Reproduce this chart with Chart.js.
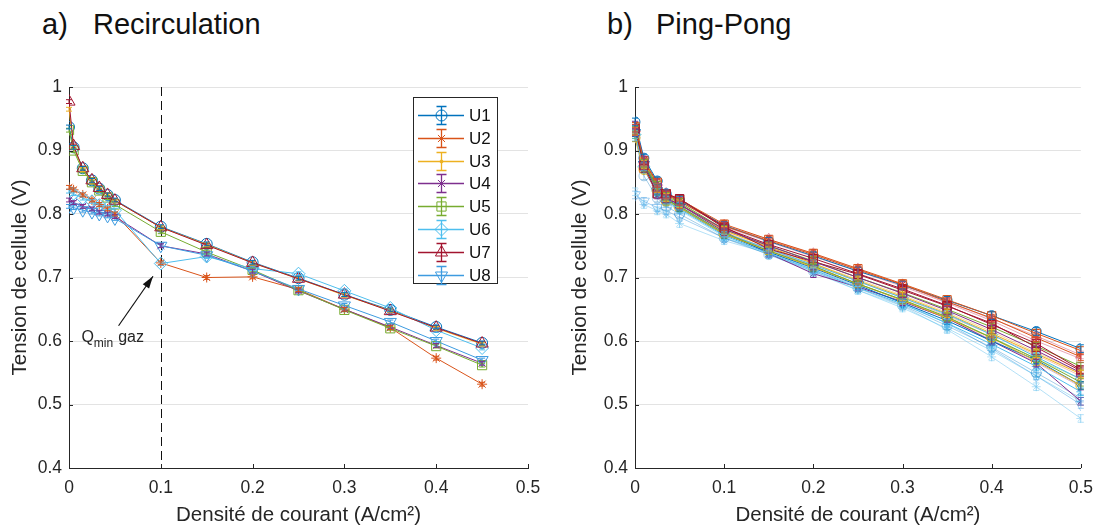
<!DOCTYPE html>
<html lang="fr">
<head>
<meta charset="UTF-8">
<title>Recirculation / Ping-Pong</title>
<script src="https://cdn.jsdelivr.net/npm/chart.js@4.4.1/dist/chart.umd.min.js"></script>
<style>
  body { margin: 0; background: #fff; font-family: "Liberation Sans", Arial, sans-serif; }
  #page { position: relative; width: 1103px; height: 526px; overflow: hidden; }
  .box { position: absolute; top: 0; }
  .ttl { position: absolute; top: 8px; font-size: 29px; color: #111; white-space: pre; }
</style>
</head>
<body>
<div id="page">
  <span class="ttl" style="left:42px">a)</span>
  <span class="ttl" style="left:93px">Recirculation</span>
  <span class="ttl" style="left:607px">b)</span>
  <span class="ttl" style="left:656px">Ping-Pong</span>
  <div class="box" style="left:0;width:555px;height:526px"><canvas id="left" width="555" height="526"></canvas></div>
  <div class="box" style="left:560px;width:543px;height:526px"><canvas id="right" width="543" height="526"></canvas></div>
</div>
<script>
// ---- data: a) Recirculation ----
const xLeft = [0, 0.005, 0.015, 0.025, 0.033, 0.042, 0.05, 0.1, 0.15, 0.2, 0.25, 0.3, 0.35, 0.4, 0.45];
const U1 = [0.937, 0.905, 0.872, 0.853, 0.840, 0.830, 0.822, 0.780, 0.753, 0.724, 0.699, 0.673, 0.649, 0.622, 0.597];
const U2 = [0.842, 0.838, 0.830, 0.822, 0.815, 0.808, 0.800, 0.723, 0.700, 0.701, 0.681, 0.650, 0.621, 0.573, 0.532];
const U3 = [0.965, 0.905, 0.870, 0.852, 0.840, 0.830, 0.821, 0.779, 0.752, 0.723, 0.698, 0.672, 0.648, 0.620, 0.595];
const U4 = [0.822, 0.818, 0.812, 0.808, 0.803, 0.800, 0.796, 0.750, 0.737, 0.710, 0.679, 0.650, 0.622, 0.593, 0.565];
const U5 = [0.932, 0.900, 0.868, 0.850, 0.837, 0.826, 0.815, 0.772, 0.740, 0.712, 0.680, 0.649, 0.620, 0.592, 0.562];
const U6 = [0.836, 0.832, 0.825, 0.820, 0.814, 0.810, 0.806, 0.722, 0.733, 0.714, 0.706, 0.679, 0.652, 0.617, 0.589];
const U7 = [0.977, 0.907, 0.872, 0.853, 0.841, 0.830, 0.821, 0.779, 0.751, 0.723, 0.698, 0.673, 0.647, 0.621, 0.596];
const U8 = [0.812, 0.810, 0.806, 0.803, 0.800, 0.797, 0.793, 0.750, 0.735, 0.710, 0.682, 0.656, 0.630, 0.600, 0.570];
const leftNames = ['U1', 'U2', 'U3', 'U4', 'U5', 'U6', 'U7', 'U8'];
const leftErr = 0.003;

// ---- data: b) Ping-Pong ----
const xRight = [0, 0.01, 0.025, 0.035, 0.05, 0.1, 0.15, 0.2, 0.25, 0.3, 0.35, 0.4, 0.45, 0.5];
const P1  = [0.945, 0.888, 0.852, 0.832, 0.822, 0.782, 0.757, 0.734, 0.710, 0.688, 0.664, 0.640, 0.615, 0.588];
const P2  = [0.935, 0.882, 0.848, 0.830, 0.820, 0.781, 0.758, 0.736, 0.712, 0.689, 0.662, 0.636, 0.605, 0.575];
const P3  = [0.930, 0.878, 0.840, 0.826, 0.816, 0.774, 0.748, 0.722, 0.695, 0.670, 0.643, 0.612, 0.580, 0.548];
const P4  = [0.940, 0.885, 0.830, 0.825, 0.815, 0.772, 0.738, 0.706, 0.685, 0.662, 0.636, 0.600, 0.565, 0.505];
const P5  = [0.935, 0.880, 0.845, 0.828, 0.818, 0.776, 0.750, 0.726, 0.700, 0.676, 0.650, 0.622, 0.592, 0.560];
const P6  = [0.925, 0.875, 0.838, 0.822, 0.812, 0.770, 0.745, 0.720, 0.694, 0.668, 0.642, 0.610, 0.575, 0.540];
const P7  = [0.930, 0.872, 0.832, 0.830, 0.824, 0.780, 0.745, 0.725, 0.705, 0.680, 0.655, 0.628, 0.590, 0.553];
const P8  = [0.928, 0.878, 0.836, 0.825, 0.810, 0.768, 0.740, 0.715, 0.688, 0.660, 0.632, 0.600, 0.570, 0.530];
const P9  = [0.938, 0.884, 0.850, 0.832, 0.823, 0.784, 0.760, 0.738, 0.714, 0.690, 0.665, 0.640, 0.612, 0.585];
const P10 = [0.920, 0.870, 0.838, 0.820, 0.810, 0.768, 0.742, 0.716, 0.690, 0.664, 0.636, 0.605, 0.568, 0.530];
const P11 = [0.930, 0.878, 0.842, 0.824, 0.815, 0.776, 0.750, 0.725, 0.700, 0.675, 0.648, 0.618, 0.585, 0.550];
const P12 = [0.932, 0.880, 0.840, 0.822, 0.812, 0.770, 0.742, 0.718, 0.690, 0.665, 0.638, 0.605, 0.572, 0.535];
const P13 = [0.925, 0.874, 0.835, 0.820, 0.808, 0.766, 0.738, 0.712, 0.684, 0.658, 0.628, 0.595, 0.560, 0.520];
const P14 = [0.935, 0.876, 0.832, 0.832, 0.824, 0.778, 0.752, 0.730, 0.706, 0.682, 0.656, 0.626, 0.596, 0.555];
const L1  = [0.835, 0.815, 0.805, 0.800, 0.785, 0.758, 0.738, 0.710, 0.680, 0.655, 0.618, 0.575, 0.528, 0.478];
const L2  = [0.830, 0.820, 0.810, 0.805, 0.795, 0.762, 0.740, 0.713, 0.686, 0.660, 0.628, 0.588, 0.545, 0.500];
const L3  = [0.930, 0.882, 0.848, 0.830, 0.820, 0.780, 0.756, 0.733, 0.710, 0.686, 0.660, 0.632, 0.600, 0.572];
const L4  = [0.935, 0.885, 0.850, 0.832, 0.820, 0.782, 0.760, 0.737, 0.713, 0.688, 0.662, 0.635, 0.608, 0.578];
const L5  = [0.930, 0.876, 0.840, 0.824, 0.814, 0.772, 0.745, 0.720, 0.694, 0.668, 0.640, 0.610, 0.578, 0.545];
const L6  = [0.928, 0.875, 0.838, 0.822, 0.812, 0.770, 0.744, 0.718, 0.690, 0.664, 0.635, 0.602, 0.566, 0.528];
const L7  = [0.925, 0.873, 0.836, 0.820, 0.810, 0.768, 0.742, 0.716, 0.690, 0.665, 0.637, 0.606, 0.572, 0.540];
const L8  = [0.930, 0.878, 0.842, 0.826, 0.815, 0.774, 0.748, 0.722, 0.697, 0.672, 0.645, 0.615, 0.582, 0.550];
const L9  = [0.922, 0.870, 0.832, 0.818, 0.806, 0.764, 0.736, 0.708, 0.680, 0.652, 0.620, 0.585, 0.545, 0.505];
const L10 = [0.920, 0.860, 0.825, 0.812, 0.800, 0.762, 0.736, 0.710, 0.683, 0.656, 0.624, 0.590, 0.550, 0.510];
const rightErr = 0.006;

const xTicks = [0, 0.1, 0.2, 0.3, 0.4, 0.5];
const yTicks = [0.4, 0.5, 0.6, 0.7, 0.8, 0.9, 1];

// matlab-ish colours and markers
const C = ['#0072BD', '#D95319', '#EDB120', '#7E2F8E', '#77AC30', '#4DBEEE', '#A2142F'];
const CL = ['rgba(0,114,189,0.35)', 'rgba(217,83,25,0.35)', 'rgba(237,177,32,0.45)', 'rgba(126,47,142,0.35)',
            'rgba(119,172,48,0.4)', 'rgba(77,190,238,0.45)', 'rgba(200,60,100,0.45)'];
const markers = {
  o: {pointStyle: 'circle', r: 5.5, rot: 0},
  '*': {pointStyle: 'star', r: 5, rot: 0},
  '.': {pointStyle: 'circle', r: 1.5, rot: 0, fill: true},
  x: {pointStyle: 'crossRot', r: 5, rot: 0},
  s: {pointStyle: 'rect', r: 6.5, rot: 0},
  d: {pointStyle: 'rectRot', r: 6.5, rot: 0},
  '^': {pointStyle: 'triangle', r: 7, rot: 0},
  v: {pointStyle: 'triangle', r: 7, rot: 180}
};

function makeSet(label, xs, ys, color, mk, scale) {
  const m = markers[mk];
  return {
    label: label,
    data: xs.map((x, i) => ({x: x, y: ys[i]})),
    borderColor: color,
    backgroundColor: m.fill ? color : 'rgba(0,0,0,0)',
    borderWidth: 1,
    pointStyle: m.pointStyle,
    pointRadius: m.r * scale,
    pointRotation: m.rot,
    pointBorderWidth: 1,
    pointBackgroundColor: m.fill ? color : 'rgba(0,0,0,0)',
    pointBorderColor: color,
    pointHoverRadius: m.r * scale
  };
}

const leftData = [U1, U2, U3, U4, U5, U6, U7, U8];
const leftMk = ['o', '*', '.', 'x', 's', 'd', '^', 'v'];
const leftColors = [C[0], C[1], C[2], C[3], C[4], C[5], C[6], '#3D9BE0'];
const leftSets = leftData.map((ys, i) => makeSet(leftNames[i], xLeft, ys, leftColors[i], leftMk[i], 1));

const rightData = [L1, L2, L3, L4, L5, L6, L7, L8, L9, L10, P1, P2, P3, P4, P5, P6, P7, P8, P9, P10, P11, P12, P13, P14];
const rightColors = ['rgba(120,200,240,0.55)', 'rgba(90,170,230,0.55)', CL[6], CL[6], CL[1], CL[3], CL[4], CL[2], CL[5], CL[0],
                     C[0], C[1], C[2], C[3], C[4], C[5], C[6], C[0], C[1], C[2], C[3], C[4], C[5], C[6]];
const rightMk = ['*', 'v', 's', '^', 'o', 'x', 'd', 's', '*', 'o',
                 'o', '*', '.', 'x', 's', 'd', 's', 'v', 's', 'o', 's', 'x', '*', 's'];
const rightSets = rightData.map((ys, i) => makeSet('S' + (i + 1), xRight, ys, rightColors[i], rightMk[i], 0.9));

// draw order: later series on top
[leftSets, rightSets].forEach(sets => sets.forEach((s, i) => { s.order = sets.length - i; }));

const FONT = '"Liberation Sans", Arial, sans-serif';

const errorBars = {
  id: 'errorBars',
  afterDatasetsDraw(chart, args, opts) {
    const ctx = chart.ctx, ys = chart.scales.y;
    const n = chart.data.datasets.length;
    for (let d = n - 1; d >= 0; d--) {
      const ds = chart.data.datasets[d];
      const meta = chart.getDatasetMeta(d);
      ctx.save();
      ctx.strokeStyle = ds.borderColor;
      ctx.lineWidth = 1;
      meta.data.forEach((el, i) => {
        const v = ds.data[i].y;
        const y1 = ys.getPixelForValue(v - opts.err), y2 = ys.getPixelForValue(v + opts.err);
        ctx.beginPath();
        ctx.moveTo(el.x, y1); ctx.lineTo(el.x, y2);
        ctx.moveTo(el.x - 3, y1); ctx.lineTo(el.x + 3, y1);
        ctx.moveTo(el.x - 3, y2); ctx.lineTo(el.x + 3, y2);
        ctx.stroke();
      });
      ctx.restore();
    }
  }
};

// small inward tick marks like the original axes
const innerTicks = {
  id: 'innerTicks',
  afterDraw(chart) {
    const ctx = chart.ctx, xs = chart.scales.x, ys = chart.scales.y, a = chart.chartArea;
    ctx.save();
    ctx.strokeStyle = '#262626'; ctx.lineWidth = 1;
    ctx.beginPath();
    xTicks.forEach(v => { const p = Math.round(xs.getPixelForValue(v)) + 0.5; ctx.moveTo(p, a.bottom); ctx.lineTo(p, a.bottom - 4); });
    yTicks.forEach(v => { const p = Math.round(ys.getPixelForValue(v)) + 0.5; ctx.moveTo(a.left, p); ctx.lineTo(a.left + 4, p); });
    ctx.stroke();
    ctx.restore();
  }
};

const leftExtras = {
  id: 'leftExtras',
  beforeDatasetsDraw(chart) {
    const ctx = chart.ctx, xs = chart.scales.x, ys = chart.scales.y;
    const px = Math.round(xs.getPixelForValue(0.1)) + 0.5;
    ctx.save();
    ctx.strokeStyle = '#111';
    ctx.lineWidth = 1;
    ctx.setLineDash([9, 5]);
    ctx.beginPath();
    ctx.moveTo(px, ys.getPixelForValue(1));
    ctx.lineTo(px, ys.getPixelForValue(0.4));
    ctx.stroke();
    ctx.restore();
  },
  afterDraw(chart) {
    const ctx = chart.ctx, xs = chart.scales.x, ys = chart.scales.y;
    // arrow
    const ax = xs.getPixelForValue(0.054), ay = ys.getPixelForValue(0.624);
    const bx = xs.getPixelForValue(0.0915), by = ys.getPixelForValue(0.702);
    ctx.save();
    ctx.strokeStyle = '#111'; ctx.fillStyle = '#111'; ctx.lineWidth = 1.2;
    ctx.beginPath(); ctx.moveTo(ax, ay); ctx.lineTo(bx, by); ctx.stroke();
    const ang = Math.atan2(by - ay, bx - ax);
    ctx.beginPath();
    ctx.moveTo(bx, by);
    ctx.lineTo(bx - 13 * Math.cos(ang - 0.3), by - 13 * Math.sin(ang - 0.3));
    ctx.lineTo(bx - 13 * Math.cos(ang + 0.3), by - 13 * Math.sin(ang + 0.3));
    ctx.closePath(); ctx.fill();
    // Q_min gaz
    const tx = xs.getPixelForValue(0.0135), ty = ys.getPixelForValue(0.598);
    ctx.fillStyle = '#262626';
    ctx.textBaseline = 'alphabetic';
    ctx.font = '16px ' + FONT;
    ctx.fillText('Q', tx, ty);
    const qw = ctx.measureText('Q').width;
    ctx.font = '12px ' + FONT;
    ctx.fillText('min', tx + qw, ty + 5);
    const mw = ctx.measureText('min').width;
    ctx.font = '16px ' + FONT;
    ctx.fillText('gaz', tx + qw + mw + 5, ty);
    // legend box
    const lx = 413, ly = 97, lw = 84, lh = 186;
    ctx.fillStyle = '#fff';
    ctx.fillRect(lx, ly, lw, lh);
    ctx.strokeStyle = '#262626'; ctx.lineWidth = 1;
    ctx.strokeRect(lx + 0.5, ly + 0.5, lw, lh);
    chart.data.datasets.forEach((ds, i) => {
      const cy = Math.round(ly + 18 + i * 22.8) + 0.5, cx = lx + 28.5;
      ctx.strokeStyle = ds.borderColor; ctx.lineWidth = 1.3;
      ctx.beginPath();
      ctx.moveTo(lx + 5, cy); ctx.lineTo(lx + 51, cy);
      ctx.moveTo(cx, cy - 9); ctx.lineTo(cx, cy + 9);
      ctx.moveTo(cx - 5, cy - 9); ctx.lineTo(cx + 5, cy - 9);
      ctx.moveTo(cx - 5, cy + 9); ctx.lineTo(cx + 5, cy + 9);
      ctx.stroke();
      ctx.fillStyle = ds.pointBackgroundColor;
      ctx.lineWidth = 1;
      Chart.helpers.drawPoint(ctx, {
        pointStyle: ds.pointStyle, radius: ds.pointRadius, rotation: ds.pointRotation, borderWidth: 1
      }, cx, cy);
      ctx.fillStyle = '#111';
      ctx.font = '17px ' + FONT;
      ctx.textBaseline = 'middle';
      ctx.fillText(ds.label, lx + 56, cy + 1);
    });
    ctx.restore();
  }
};

const tickFont = {family: FONT, size: 17.5};
const titleFont = {family: FONT, size: 20.5, lineHeight: 1};

function build(id, sets, plotLeft, plotRight, canvasW, err, extraPlugins) {
  return new Chart(document.getElementById(id), {
    type: 'line',
    data: {datasets: sets},
    plugins: [errorBars, innerTicks].concat(extraPlugins),
    options: {
      responsive: false,
      animation: false,
      events: [],
      layout: {padding: {top: 87, left: 4, right: canvasW - plotRight, bottom: 0}},
      plugins: {legend: {display: false}, tooltip: {enabled: false}, errorBars: {err: err}},
      scales: {
        x: {
          type: 'linear', min: 0, max: 0.5,
          afterBuildTicks: s => { s.ticks = xTicks.map(v => ({value: v})); },
          afterFit: s => { s.height = 526 - 468; },
          grid: {display: false, drawTicks: false},
          border: {color: '#262626', width: 1},
          ticks: {font: tickFont, color: '#262626', padding: 10, maxRotation: 0, callback: v => String(v)},
          title: {display: true, text: 'Densité de courant (A/cm²)', font: titleFont, color: '#262626', padding: {top: 0, bottom: 0}}
        },
        y: {
          type: 'linear', min: 0.4, max: 1,
          afterBuildTicks: s => { s.ticks = yTicks.map(v => ({value: v})); },
          afterFit: s => { s.width = plotLeft - 4; },
          grid: {color: '#e3e3e3', drawTicks: false, lineWidth: 1},
          border: {color: '#262626', width: 1},
          ticks: {font: tickFont, color: '#262626', padding: 7, callback: v => String(v)},
          title: {display: true, text: 'Tension de cellule (V)', font: titleFont, color: '#262626', padding: {top: 6, bottom: 0}}
        }
      }
    }
  });
}

build('left', leftSets, 69, 528, 555, leftErr, [leftExtras]);
build('right', rightSets, 75, 530, 543, rightErr, []);
</script>
</body>
</html>
